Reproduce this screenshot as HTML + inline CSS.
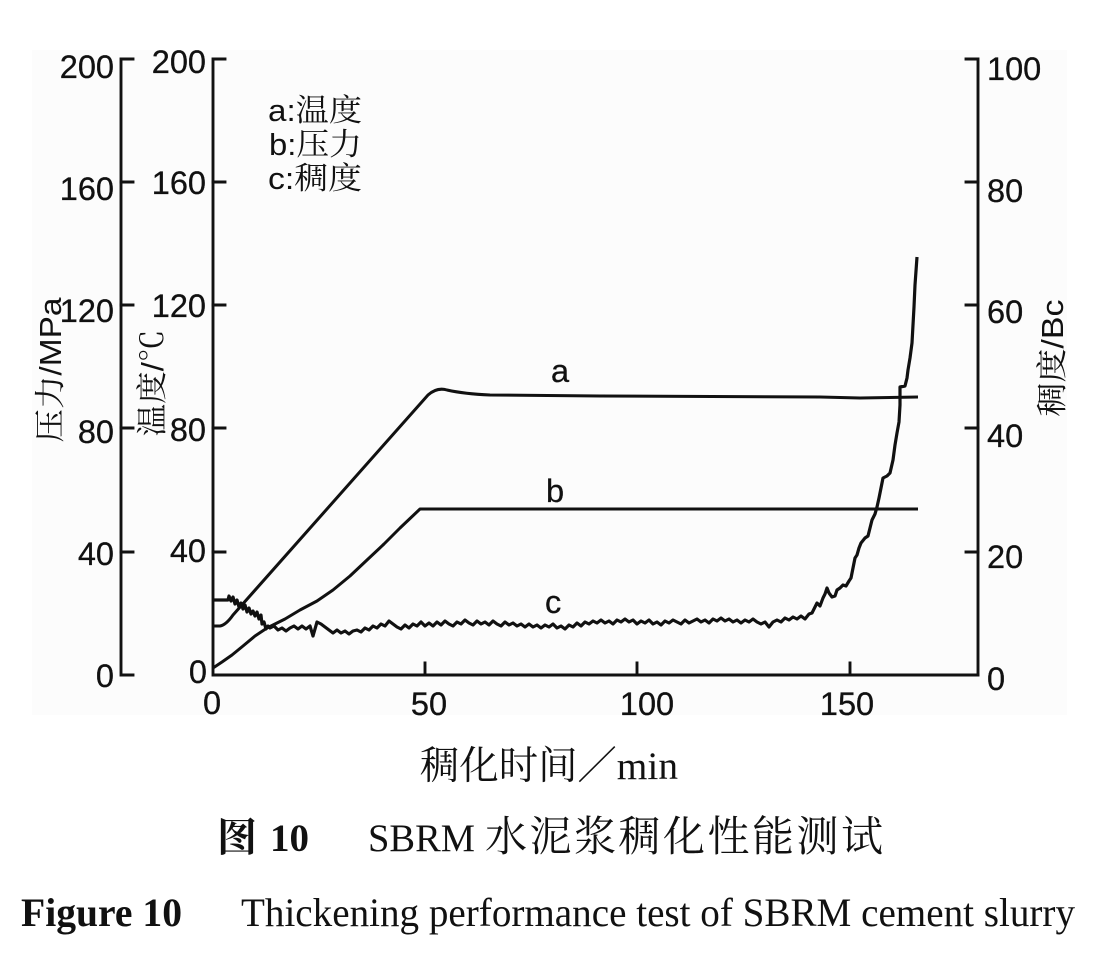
<!DOCTYPE html>
<html>
<head>
<meta charset="utf-8">
<style>
html,body{margin:0;padding:0;background:#fff;}
svg{display:block;}
.tk{font-family:"Liberation Sans","Noto Serif CJK SC",sans-serif;font-size:32.5px;fill:#111;stroke:#111;stroke-width:0.3px;}
.lg{font-family:"Liberation Sans","Noto Serif CJK SC",sans-serif;font-size:31px;fill:#111;}
.cj{font-family:"Liberation Serif","Noto Serif CJK SC",serif;fill:#111;}
</style>
</head>
<body>
<svg width="1107" height="978" viewBox="0 0 1107 978" xmlns="http://www.w3.org/2000/svg">
<rect x="0" y="0" width="1107" height="978" fill="#ffffff"/>
<rect x="32" y="50" width="1035" height="665" fill="#fcfcfc"/>

<!-- axes -->
<g stroke="#111" stroke-width="2.9" fill="none" stroke-linecap="square">
  <path d="M133,59 L121,59 L121,675 L133,675"/>
  <path d="M121,182 L133,182 M121,305 L133,305 M121,428 L133,428 M121,552 L133,552"/>
  <path d="M225,59 L213,59 L213,675 L978,675"/>
  <path d="M213,182 L225,182 M213,305 L225,305 M213,428 L225,428 M213,552 L225,552"/>
  <path d="M966,59 L978,59 L978,675"/>
  <path d="M966,182 L978,182 M966,305 L978,305 M966,428 L978,428 M966,552 L978,552"/>
  <path d="M425,675 L425,663 M637,675 L637,663 M850,675 L850,663"/>
</g>

<!-- pressure labels -->
<g class="tk" text-anchor="end">
  <text x="114" y="78">200</text>
  <text x="114" y="200">160</text>
  <text x="114" y="322">120</text>
  <text x="114" y="443">80</text>
  <text x="114" y="565">40</text>
  <text x="114" y="687">0</text>
</g>
<!-- temperature labels -->
<g class="tk" text-anchor="end">
  <text x="206" y="73">200</text>
  <text x="206" y="194">160</text>
  <text x="206" y="317">120</text>
  <text x="206" y="441">80</text>
  <text x="206" y="562">40</text>
  <text x="207" y="683">0</text>
</g>
<!-- right labels -->
<g class="tk" text-anchor="start">
  <text x="987" y="80">100</text>
  <text x="987" y="202">80</text>
  <text x="987" y="323">60</text>
  <text x="987" y="447">40</text>
  <text x="987" y="568">20</text>
  <text x="987" y="690">0</text>
</g>
<!-- x labels -->
<g class="tk" text-anchor="middle">
  <text x="212" y="714">0</text>
  <text x="429" y="715">50</text>
  <text x="647" y="715">100</text>
  <text x="847" y="715">150</text>
</g>

<!-- axis titles -->
<text class="lg" transform="translate(61,370) rotate(-90)" text-anchor="middle" textLength="145" lengthAdjust="spacingAndGlyphs" font-size="32">压力/MPa</text>
<text class="lg" transform="translate(163,383) rotate(-90)" text-anchor="middle" textLength="107" lengthAdjust="spacingAndGlyphs" font-size="32">温度/℃</text>
<text class="lg" transform="translate(1063,358) rotate(-90)" text-anchor="middle" textLength="117" lengthAdjust="spacingAndGlyphs" font-size="32">稠度/Bc</text>

<!-- legend -->
<text class="lg" x="268" y="121" textLength="94" lengthAdjust="spacingAndGlyphs">a:温度</text>
<text class="lg" x="269" y="155" textLength="93" lengthAdjust="spacingAndGlyphs">b:压力</text>
<text class="lg" x="268" y="189" textLength="94" lengthAdjust="spacingAndGlyphs">c:稠度</text>

<!-- curve labels -->
<text class="tk" x="551" y="382" font-size="32">a</text>
<text class="tk" x="546" y="502" font-size="32">b</text>
<text class="tk" x="545" y="613" font-size="32">c</text>

<!-- curve a -->
<path d="M213,626 L220,626 Q226,625 233,615 L428,395 Q437,387 447,390 Q465,394 490,395 L600,396 L820,397 L860,398 L918,397" fill="none" stroke="#111" stroke-width="3" stroke-linejoin="round"/>
<!-- curve b -->
<polyline points="213,668 222,662 232,655 243,646 255,636 267,628 285,619 300,610 317,601 333,590 350,576 367,560 384,544 400,528 420,509 600,509 760,509 918,509" fill="none" stroke="#111" stroke-width="3" stroke-linejoin="round"/>
<!-- curve c -->
<polyline fill="none" stroke="#111" stroke-width="3.2" stroke-linejoin="round" points="213,600 218,600 224,600 228,600 229,596 231,601 233,597 235,604 237,600 239,607 241,603 243,609 245,605 247,612 249,608 251,614 253,611 255,616 257,612 259,619 261,615 262,624 264,622 266,629 268,626 270,628 274,626 278,630 282,628 286,631 290,628 294,626 298,629 302,626 306,629 310,626 313,636 317,622 321,624 325,627 329,630 333,633 337,630 341,633 345,631 349,634 353,631 357,630 361,632 365,628 369,630 373,626 377,628 381,624 385,626 389,621 393,624 397,627 401,629 405,625 409,628 413,624 417,626 421,622 425,626 429,623 433,626 437,622 441,625 445,621 449,624 453,626 457,622 461,624 465,620 469,623 473,625 477,621 481,624 485,622 489,625 493,621 497,624 501,626 505,622 509,625 513,623 517,626 521,624 525,627 529,624 533,627 537,625 541,628 545,625 549,627 553,624 557,628 561,626 565,629 569,625 573,627 577,623 581,626 585,622 589,624 593,621 597,623 601,620 605,623 609,621 613,624 617,620 621,622 625,619 629,622 633,620 637,624 641,621 645,623 649,620 653,624 657,622 661,625 665,621 669,623 673,620 677,622 681,624 685,620 689,623 693,621 697,619 701,622 705,620 709,623 713,619 717,621 721,618 725,621 729,619 733,622 737,620 741,623 745,620 749,622 753,619 757,622 761,624 765,622 769,627 773,622 777,620 781,622 785,618 789,620 793,617 797,619 801,616 805,619 809,614 812,613 815,607 817,603 820,606 823,598 825,594 827,588 829,593 832,597 835,596 837,590 840,588 843,585 846,586 849,581 851,578 853,568 855,558 857,555 859,548 861,543 865,538 868,536 870,528 872,520 875,514 877,507 879,498 881,488 883,478 887,476 890,473 893,460 895,445 897,433 899,422 900,405 900,387 905,386 907,378 908,370 910,358 912,343 914,307 915,285 917,257"/>

<!-- x axis title -->
<text class="cj" x="420" y="779" font-size="39" textLength="258" lengthAdjust="spacingAndGlyphs">稠化时间／min</text>

<!-- caption line 1 -->
<text class="cj" x="217" y="851" font-size="40" font-weight="bold">图</text>
<text class="cj" x="270" y="851" font-size="39" font-weight="bold" textLength="39" lengthAdjust="spacingAndGlyphs">10</text>
<text class="cj" x="368" y="851" font-size="39" textLength="107" lengthAdjust="spacingAndGlyphs">SBRM</text>
<text class="cj" x="485" y="851" font-size="42" textLength="398" lengthAdjust="spacing">水泥浆稠化性能测试</text>

<!-- caption line 2 -->
<text class="cj" x="21" y="926" font-size="40" font-weight="bold" textLength="161" lengthAdjust="spacingAndGlyphs">Figure 10</text>
<text class="cj" x="241" y="926" font-size="40" textLength="834" lengthAdjust="spacingAndGlyphs">Thickening performance test of SBRM cement slurry</text>
</svg>
</body>
</html>
